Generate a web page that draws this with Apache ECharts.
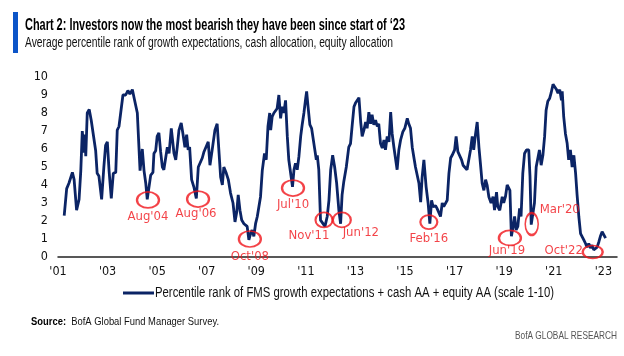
<!DOCTYPE html>
<html><head><meta charset="utf-8">
<script src="https://cdn.jsdelivr.net/npm/echarts@6/dist/echarts.min.js"></script>
<style>html,body{margin:0;padding:0;background:#fff}#c{width:624px;height:356px}</style>
</head><body><div id="c"></div>
<script>
const FONT = '"Liberation Sans Narrow","DejaVu Sans Condensed","Noto Sans",sans-serif';
const TFONT = '"Liberation Sans", Arial, sans-serif';
const titleText = "Chart 2: Investors now the most bearish they have been since start of \u201823";
const subtitleText = "Average percentile rank of growth expectations, cash allocation, equity allocation";
const seriesName = "Percentile rank of FMS growth expectations + cash AA + equity AA (scale 1-10)";
const sourceLabel = "Source:";
const sourceText = "BofA Global Fund Manager Survey.";
const brandText = "BofA GLOBAL RESEARCH";

// x: decimal year, y: index value (1-10 scale)
const years = [
2001.25,2001.35,2001.44,2001.48,2001.58,2001.65,2001.75,2001.85,2001.92,2001.98,
2002.05,2002.09,2002.12,2002.18,2002.26,2002.34,2002.42,2002.52,2002.58,2002.65,
2002.76,2002.85,2002.92,2002.99,2003.06,2003.15,2003.23,2003.33,2003.39,2003.46,
2003.53,2003.62,2003.69,2003.73,2003.82,2003.90,2004.00,2004.06,2004.20,2004.31,
2004.40,2004.47,2004.54,2004.60,2004.74,2004.83,2004.87,2004.94,2005.00,2005.07,
2005.14,2005.21,2005.27,2005.34,2005.41,2005.48,2005.57,2005.68,2005.75,2005.81,
2005.88,2005.97,2006.04,2006.12,2006.19,2006.25,2006.31,2006.39,2006.48,2006.58,
2006.66,2006.73,2006.82,2006.89,2006.96,2007.06,2007.13,2007.22,2007.33,2007.42,
2007.46,2007.56,2007.63,2007.69,2007.79,2007.87,2007.96,2008.06,2008.14,2008.21,
2008.27,2008.34,2008.41,2008.50,2008.57,2008.63,2008.70,2008.77,2008.83,2008.90,
2008.97,2009.04,2009.10,2009.17,2009.24,2009.33,2009.40,2009.47,2009.54,2009.58,
2009.64,2009.71,2009.78,2009.84,2009.91,2009.98,2010.04,2010.11,2010.18,2010.25,
2010.31,2010.38,2010.46,2010.52,2010.58,2010.65,2010.72,2010.79,2010.85,2010.92,
2010.99,2011.03,2011.08,2011.16,2011.23,2011.29,2011.35,2011.42,2011.46,2011.52,
2011.59,2011.66,2011.77,2011.86,2011.93,2012.00,2012.08,2012.16,2012.24,2012.33,
2012.40,2012.46,2012.53,2012.63,2012.73,2012.80,2012.87,2012.94,2013.00,2013.07,
2013.14,2013.21,2013.27,2013.34,2013.41,2013.47,2013.54,2013.61,2013.67,2013.74,
2013.81,2013.88,2013.94,2014.01,2014.08,2014.15,2014.21,2014.28,2014.35,2014.42,
2014.48,2014.55,2014.62,2014.68,2014.75,2014.82,2014.91,2014.99,2015.09,2015.15,
2015.22,2015.29,2015.36,2015.42,2015.49,2015.56,2015.63,2015.69,2015.76,2015.85,
2015.93,2016.00,2016.07,2016.13,2016.23,2016.29,2016.36,2016.43,2016.50,2016.56,
2016.63,2016.70,2016.77,2016.84,2016.90,2017.00,2017.06,2017.13,2017.21,2017.28,
2017.34,2017.41,2017.50,2017.57,2017.64,2017.71,2017.77,2017.84,2017.91,2017.98,
2018.04,2018.11,2018.18,2018.25,2018.31,2018.38,2018.47,2018.55,2018.61,2018.69,
2018.74,2018.82,2018.92,2018.98,2019.05,2019.12,2019.19,2019.23,2019.29,2019.36,
2019.42,2019.48,2019.55,2019.62,2019.68,2019.75,2019.82,2019.90,2019.99,2020.04,
2020.09,2020.17,2020.22,2020.29,2020.35,2020.42,2020.49,2020.56,2020.63,2020.69,
2020.76,2020.83,2020.89,2020.97,2021.04,2021.11,2021.17,2021.24,2021.31,2021.34,
2021.40,2021.47,2021.54,2021.60,2021.67,2021.74,2021.81,2021.88,2021.94,2022.01,
2022.08,2022.14,2022.21,2022.28,2022.34,2022.41,2022.48,2022.54,2022.61,2022.68,
2022.75,2022.82,2022.88,2022.95,2023.02,2023.09
];
const values = [
2.3,3.8,4.1,4.0,4.7,4.3,2.6,3.2,4.8,7.0,
5.8,6.8,5.6,8.0,8.2,7.6,7.5,5.9,4.65,4.5,
3.2,5.0,6.2,6.4,4.8,3.25,4.65,4.7,7.05,7.25,
7.15,9.0,9.1,9.0,9.25,9.05,9.3,8.9,8.0,4.8,
6.0,4.8,4.1,3.2,4.55,4.7,5.75,5.9,6.7,6.9,
5.85,5.0,4.85,4.9,6.1,5.75,7.15,5.75,5.4,6.1,
7.05,7.45,6.85,6.1,6.8,5.95,6.1,4.3,3.9,3.25,
5.0,5.1,5.5,5.85,5.95,6.4,5.1,5.95,7.05,7.4,
7.45,4.45,4.0,5.0,4.65,4.3,3.55,3.0,1.95,2.5,
3.45,2.6,2.05,1.85,1.95,1.7,0.95,1.3,1.5,1.15,
1.85,2.25,2.15,3.35,4.8,5.75,5.4,7.25,8.0,7.05,
7.8,8.0,7.9,8.25,9.0,7.7,8.35,8.0,8.7,6.7,
5.4,5.3,3.9,4.85,5.2,4.85,5.6,6.7,7.35,8.0,
8.8,9.2,8.45,7.35,7.15,7.25,6.05,5.4,5.65,4.85,
2.05,1.95,1.7,2.25,3.15,4.85,5.65,5.0,4.1,2.6,
1.85,3.45,4.2,5.0,6.1,6.3,7.35,8.35,8.55,8.45,
8.85,7.5,6.7,7.05,7.5,7.15,8.05,7.4,7.9,7.35,
7.6,7.25,7.4,6.3,6.05,6.5,5.95,6.7,6.4,8.05,
6.85,6.1,6.2,4.85,5.95,6.5,6.95,7.15,7.7,7.4,
7.15,6.1,5.5,5.0,4.9,4.1,3.05,4.45,5.4,3.9,
3.0,1.85,3.15,2.8,2.85,2.7,2.8,2.25,3.0,2.8,
2.9,3.15,4.65,5.5,5.65,5.95,6.7,5.85,5.95,5.4,
5.1,5.2,4.85,4.9,5.95,6.7,5.95,6.8,7.5,6.1,
5.2,4.1,3.7,4.3,4.0,3.35,3.0,3.35,2.6,3.6,
2.8,2.6,3.35,3.0,3.35,4.0,3.9,3.7,1.15,1.7,
2.25,1.5,1.7,2.7,2.25,4.65,5.75,5.95,5.95,4.5,
1.8,1.8,3.0,5.0,5.1,5.95,5.1,5.65,6.7,8.15,
8.65,8.8,9.1,9.6,9.45,9.3,9.1,9.3,8.7,9.2,
7.8,6.85,6.3,5.4,5.95,5.0,5.65,4.65,3.45,2.25,
1.3,1.2,0.95,0.75,0.55,0.75,0.5,0.65,0.4,0.4,
0.55,0.85,1.15,1.4,1.3,1.05
];
const yTicks = [0,1,2,3,4,5,6,7,8,9,10];

// Annotated troughs
const annLabels = ["Aug'04","Aug'06","Oct'08","Jul'10","Nov'11","Jun'12","Feb'16","Jun'19","Mar'20","Oct'22"];
const annYears  = [2004.63,2006.65,2008.74,2010.48,2011.73,2012.45,2015.96,2019.23,2020.11,2022.57];
const annValues = [3.17,3.22,1.0,3.83,2.06,2.06,1.94,1.06,1.83,0.28];
// label offsets and ellipse sizes (layout only)
const annOffsets = [[0,17],[-2,15],[0,18],[0,17],[-15,16],[19,13],[0,17],[-3,13],[28,-14],[-29,-1]];
const annSizes = [[22,16],[22,16],[22,16],[22,16],[17,15],[18,15],[17,14],[22,15],[13,22],[20,13]];

const RED = '#f0141a';
const NAVY = '#0b2465';

// measure helper to condense text to the reference widths
const mctx = document.createElement('canvas').getContext('2d');
function textW(t, size, weight) {
  mctx.font = (weight || 'normal') + ' ' + size + 'px ' + TFONT;
  return mctx.measureText(t).width;
}
function fitText(t, x, y, size, weight, targetW, fill, align) {
  const s = Math.min(1, targetW / textW(t, size, weight));
  return { type: 'text', x: x, y: y, scaleX: s, silent: true,
    style: { text: t, fontSize: size, fontWeight: weight || 'normal', fontFamily: TFONT,
      fill: fill, verticalAlign: 'middle', align: align || 'left' } };
}

const lineData = years.map((y,i)=>[y, values[i]]);
const annData = annLabels.map((l,i)=>({
  name: l, value: [annYears[i], annValues[i]],
  symbolSize: annSizes[i],
  label: { offset: annOffsets[i] }
}));

const srcW1 = textW(sourceLabel, 11, 'bold');
const srcW2 = textW('  ' + sourceText, 11, 'normal');
const srcScale = 188 / (srcW1 + srcW2);

const chart = echarts.init(document.getElementById('c'), null, {renderer:'canvas'});
chart.setOption({
  animation: false,
  backgroundColor: '#fff',
  textStyle: { fontFamily: FONT },
  graphic: [
    { type: 'rect', x: 13, y: 12, shape: { width: 5, height: 41 }, style: { fill: '#0c55c8' }, silent: true },
    fitText(titleText, 25, 25, 16.5, 'bold', 380, '#000'),
    fitText(subtitleText, 25, 43, 14, 'normal', 368, '#111'),
    { type: 'line', shape: { x1: 123, y1: 293, x2: 154, y2: 293 }, style: { stroke: NAVY, lineWidth: 3 }, silent: true },
    fitText(seriesName, 155, 293, 14, 'normal', 399, '#111'),
    { type: 'text', x: 31, y: 322, scaleX: srcScale, silent: true, style: {
        text: '{b|' + sourceLabel + '}  ' + sourceText,
        rich: { b: { fontWeight: 'bold', fontSize: 11, fontFamily: TFONT, fill: '#000' } },
        fontSize: 11, fontFamily: TFONT, fill: '#111', verticalAlign: 'middle' } },
    fitText(brandText, 617, 336, 11.5, 'normal', 102, '#555', 'right')
  ],
  grid: { left: 58, right: 7, top: 77, bottom: 99 },
  xAxis: {
    type: 'value', min: 2001, max: 2023.55, interval: 2,
    axisLine: { show: true, lineStyle: { color: '#222', width: 1.5 } },
    axisTick: { show: false },
    splitLine: { show: false },
    axisLabel: {
      fontFamily: FONT, fontSize: 12.5, color: '#111', margin: 8,
      formatter: v => (Number.isInteger(v) ? "'" + String(v).slice(2) : '')
    }
  },
  yAxis: {
    type: 'value', min: yTicks[0], max: yTicks[yTicks.length-1], interval: 1,
    axisLine: { show: false }, axisTick: { show: false }, splitLine: { show: false },
    axisLabel: { fontFamily: FONT, fontSize: 12.5, color: '#111', margin: 10 }
  },
  series: [
    { name: seriesName, type: 'line', data: lineData, showSymbol: false, symbol: 'none',
      lineStyle: { color: NAVY, width: 2.8 }, itemStyle: { color: NAVY }, z: 2, silent: true },
    { name: 'ann', type: 'scatter', data: annData, symbol: 'circle', z: 5, silent: true,
      itemStyle: { color: 'rgba(0,0,0,0)', borderColor: RED, borderWidth: 2 },
      label: { show: true, position: 'inside', formatter: p => p.name,
        fontFamily: FONT, fontSize: 13, color: RED } }
  ]
});
</script></body></html>
